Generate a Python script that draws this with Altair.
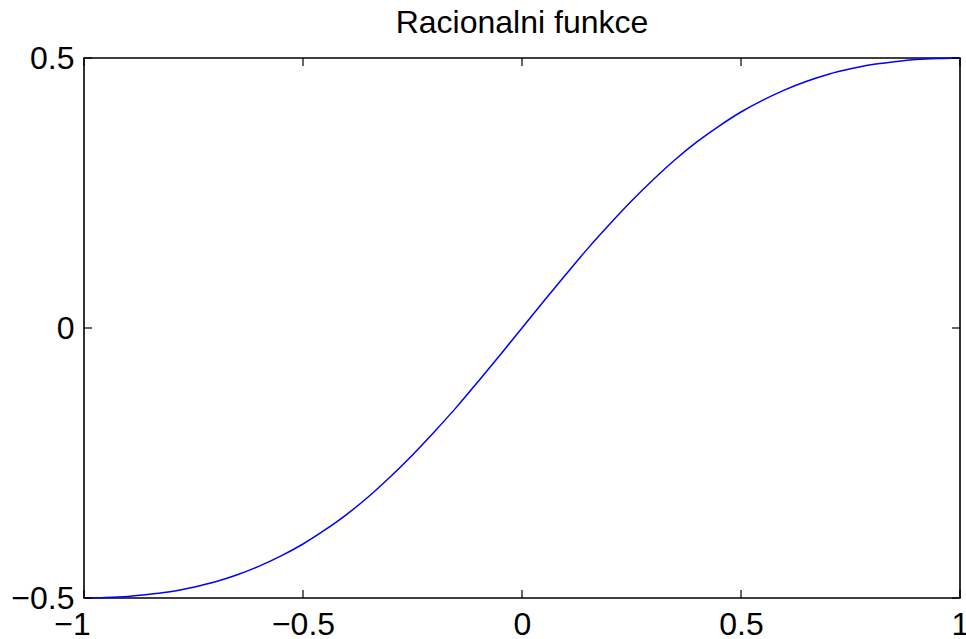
import altair as alt
import pandas as pd

# values
xs = [-1.0, -0.95, -0.9, -0.85, -0.8, -0.75, -0.7, -0.65, -0.6, -0.55, -0.5,
      -0.45, -0.4, -0.35, -0.3, -0.25, -0.2, -0.15, -0.1, -0.05, 0.0,
      0.05, 0.1, 0.15, 0.2, 0.25, 0.3, 0.35, 0.4, 0.45, 0.5,
      0.55, 0.6, 0.65, 0.7, 0.75, 0.8, 0.85, 0.9, 0.95, 1.0]
ys = [-0.500, -0.499, -0.497, -0.493, -0.488, -0.480, -0.470, -0.457, -0.441, -0.422, -0.400,
      -0.374, -0.345, -0.312, -0.275, -0.235, -0.192, -0.147, -0.099, -0.050, 0.000,
      0.050, 0.099, 0.147, 0.192, 0.235, 0.275, 0.312, 0.345, 0.374, 0.400,
      0.422, 0.441, 0.457, 0.470, 0.480, 0.488, 0.493, 0.497, 0.499, 0.500]
x_ticks = [-1, -0.5, 0, 0.5, 1]
y_ticks = [-0.5, 0, 0.5]

W, H = 876, 540
FONT = "Liberation Sans"

df = pd.DataFrame({"x": xs, "y": ys})
dxt = pd.DataFrame({"x": x_ticks})
dyt = pd.DataFrame({"y": y_ticks})

xscale = alt.Scale(domain=[-1, 1], nice=False, zero=False)
yscale = alt.Scale(domain=[-0.5, 0.5], nice=False, zero=False)

xaxis = alt.Axis(values=x_ticks, format="~g", title=None, ticks=False, domain=False,
                 grid=False, labelFont=FONT, labelFontSize=32, labelColor="black",
                 labelPadding=11, labelFlush=False,
                 labelOffset=alt.expr("datum.value == -1 ? -12 : 0"))
yaxis = alt.Axis(values=y_ticks, format="~g", title=None, ticks=False, domain=False,
                 grid=False, labelFont=FONT, labelFontSize=32, labelColor="black",
                 labelPadding=10, labelFlush=False)

line = alt.Chart(df).mark_line(color="#0000ff", strokeWidth=1.5, interpolate="monotone").encode(
    x=alt.X("x:Q", scale=xscale, axis=xaxis),
    y=alt.Y("y:Q", scale=yscale, axis=yaxis),
)

tick_len = 8
bottom_t = alt.Chart(dxt).mark_rule(color="black", strokeWidth=1.2).encode(
    x=alt.X("x:Q", scale=xscale, axis=xaxis), y=alt.value(H), y2=alt.value(H - tick_len))
top_t = alt.Chart(dxt).mark_rule(color="black", strokeWidth=1.2).encode(
    x=alt.X("x:Q", scale=xscale, axis=xaxis), y=alt.value(0), y2=alt.value(tick_len))
left_t = alt.Chart(dyt).mark_rule(color="black", strokeWidth=1.2).encode(
    y=alt.Y("y:Q", scale=yscale, axis=yaxis), x=alt.value(0), x2=alt.value(tick_len))
right_t = alt.Chart(dyt).mark_rule(color="black", strokeWidth=1.2).encode(
    y=alt.Y("y:Q", scale=yscale, axis=yaxis), x=alt.value(W), x2=alt.value(W - tick_len))

chart = alt.layer(line, bottom_t, top_t, left_t, right_t).properties(
    width=W, height=H,
    background="white",
    title=alt.TitleParams("Racionalni funkce", font=FONT, fontSize=32, fontWeight="normal",
                          color="black", anchor="middle", frame="group", offset=2),
    padding={"left": 84, "top": 58, "right": 6, "bottom": 41},
    autosize=alt.AutoSizeParams(type="none"),
).configure_view(stroke="black", strokeWidth=1.6)

chart.save("out.html", embed_options={"renderer": "svg", "actions": False})
